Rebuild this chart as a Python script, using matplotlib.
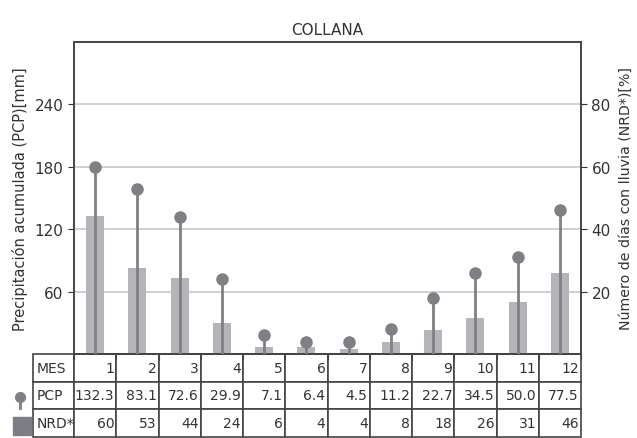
import matplotlib
matplotlib.use("Agg")
import matplotlib.pyplot as plt
import numpy as np

# Monthly data for COLLANA
meses = [1, 2, 3, 4, 5, 6, 7, 8, 9, 10, 11, 12]
pcp = [132.3, 83.1, 72.6, 29.9, 7.1, 6.4, 4.5, 11.2, 22.7, 34.5, 50.0, 77.5]
nrd = [60, 53, 44, 24, 6, 4, 4, 8, 18, 26, 31, 46]
row_labels = ["MES", "PCP", "NRD*"]

bar_color = "#b5b5b9"
stem_color = "#7f7f84"
text_color = "#333333"
edge_color = "#444444"

fig = plt.figure(figsize=(6.37, 4.39), dpi=100)
ax = fig.add_axes([74 / 637, 1 - 355 / 439, 507 / 637, 312 / 439])
ax2 = ax.twinx()

# Bars: accumulated precipitation (left axis)
ax.bar(meses, pcp, width=0.43, color=bar_color, zorder=2)
ax.set_ylim(0, 300)
ax.set_yticks([60, 120, 180, 240])
ax.grid(axis="y", color="#c8c8c8", linewidth=1.2, zorder=0)
ax.set_xlim(0.5, 12.5)
ax.set_xticks(np.arange(0.5, 13, 1))
ax.set_xticklabels([])
ax.tick_params(axis="x", length=4, color=edge_color)
ax.tick_params(axis="y", labelsize=11, colors=text_color, length=4)
ax.set_ylabel("Precipitación acumulada (PCP)[mm]", fontsize=10.5, color=text_color, labelpad=5)
ax.set_title("COLLANA", fontsize=11, color=text_color, pad=6)

# Lollipops: number of rainy days (right axis)
ax2.vlines(meses, 0, nrd, color=stem_color, linewidth=2, zorder=3)
ax2.plot(meses, nrd, "o", color=stem_color, markersize=8, zorder=4)
ax2.set_ylim(0, 100)
ax2.set_yticks([20, 40, 60, 80])
ax2.tick_params(axis="y", labelsize=11, colors=text_color, length=4)
ax2.set_ylabel("Número de días con lluvia (NRD*)[%]", fontsize=10.2, color=text_color, labelpad=6)

for a in (ax, ax2):
    for s in a.spines.values():
        s.set_color(edge_color)
        s.set_linewidth(1.2)

# Table below the axes
cell_text = [
    [row_labels[0]] + [str(m) for m in meses],
    [row_labels[1]] + ["%.1f" % v for v in pcp],
    [row_labels[2]] + [str(v) for v in nrd],
]
label_w = 41 / 507
col_w = [label_w] + [1 / 12] * 12
tbl = ax.table(cellText=cell_text, colWidths=col_w, cellLoc="right",
               bbox=[-label_w, -83 / 312, 1 + label_w, 83 / 312])
tbl.auto_set_font_size(False)
tbl.set_fontsize(10)
for (r, c), cell in tbl.get_celld().items():
    cell.set_edgecolor(edge_color)
    cell.set_linewidth(1.2)
    cell.get_text().set_color(text_color)
    if c == 0:
        cell.get_text().set_horizontalalignment("left")
        cell.PAD = 0.08
    else:
        cell.PAD = 0.05

# Legend icons to the left of the table rows
ax.plot([-0.1065, -0.1065], [-0.172, -0.138], color=stem_color, linewidth=2,
        transform=ax.transAxes, clip_on=False)
ax.plot([-0.1065], [-0.138], "o", color=stem_color, markersize=7,
        transform=ax.transAxes, clip_on=False)
ax.plot([-0.1026], [-0.232], "s", color="#7c7d85", markersize=12.5,
        transform=ax.transAxes, clip_on=False)

fig.savefig("out.png", dpi=100)
